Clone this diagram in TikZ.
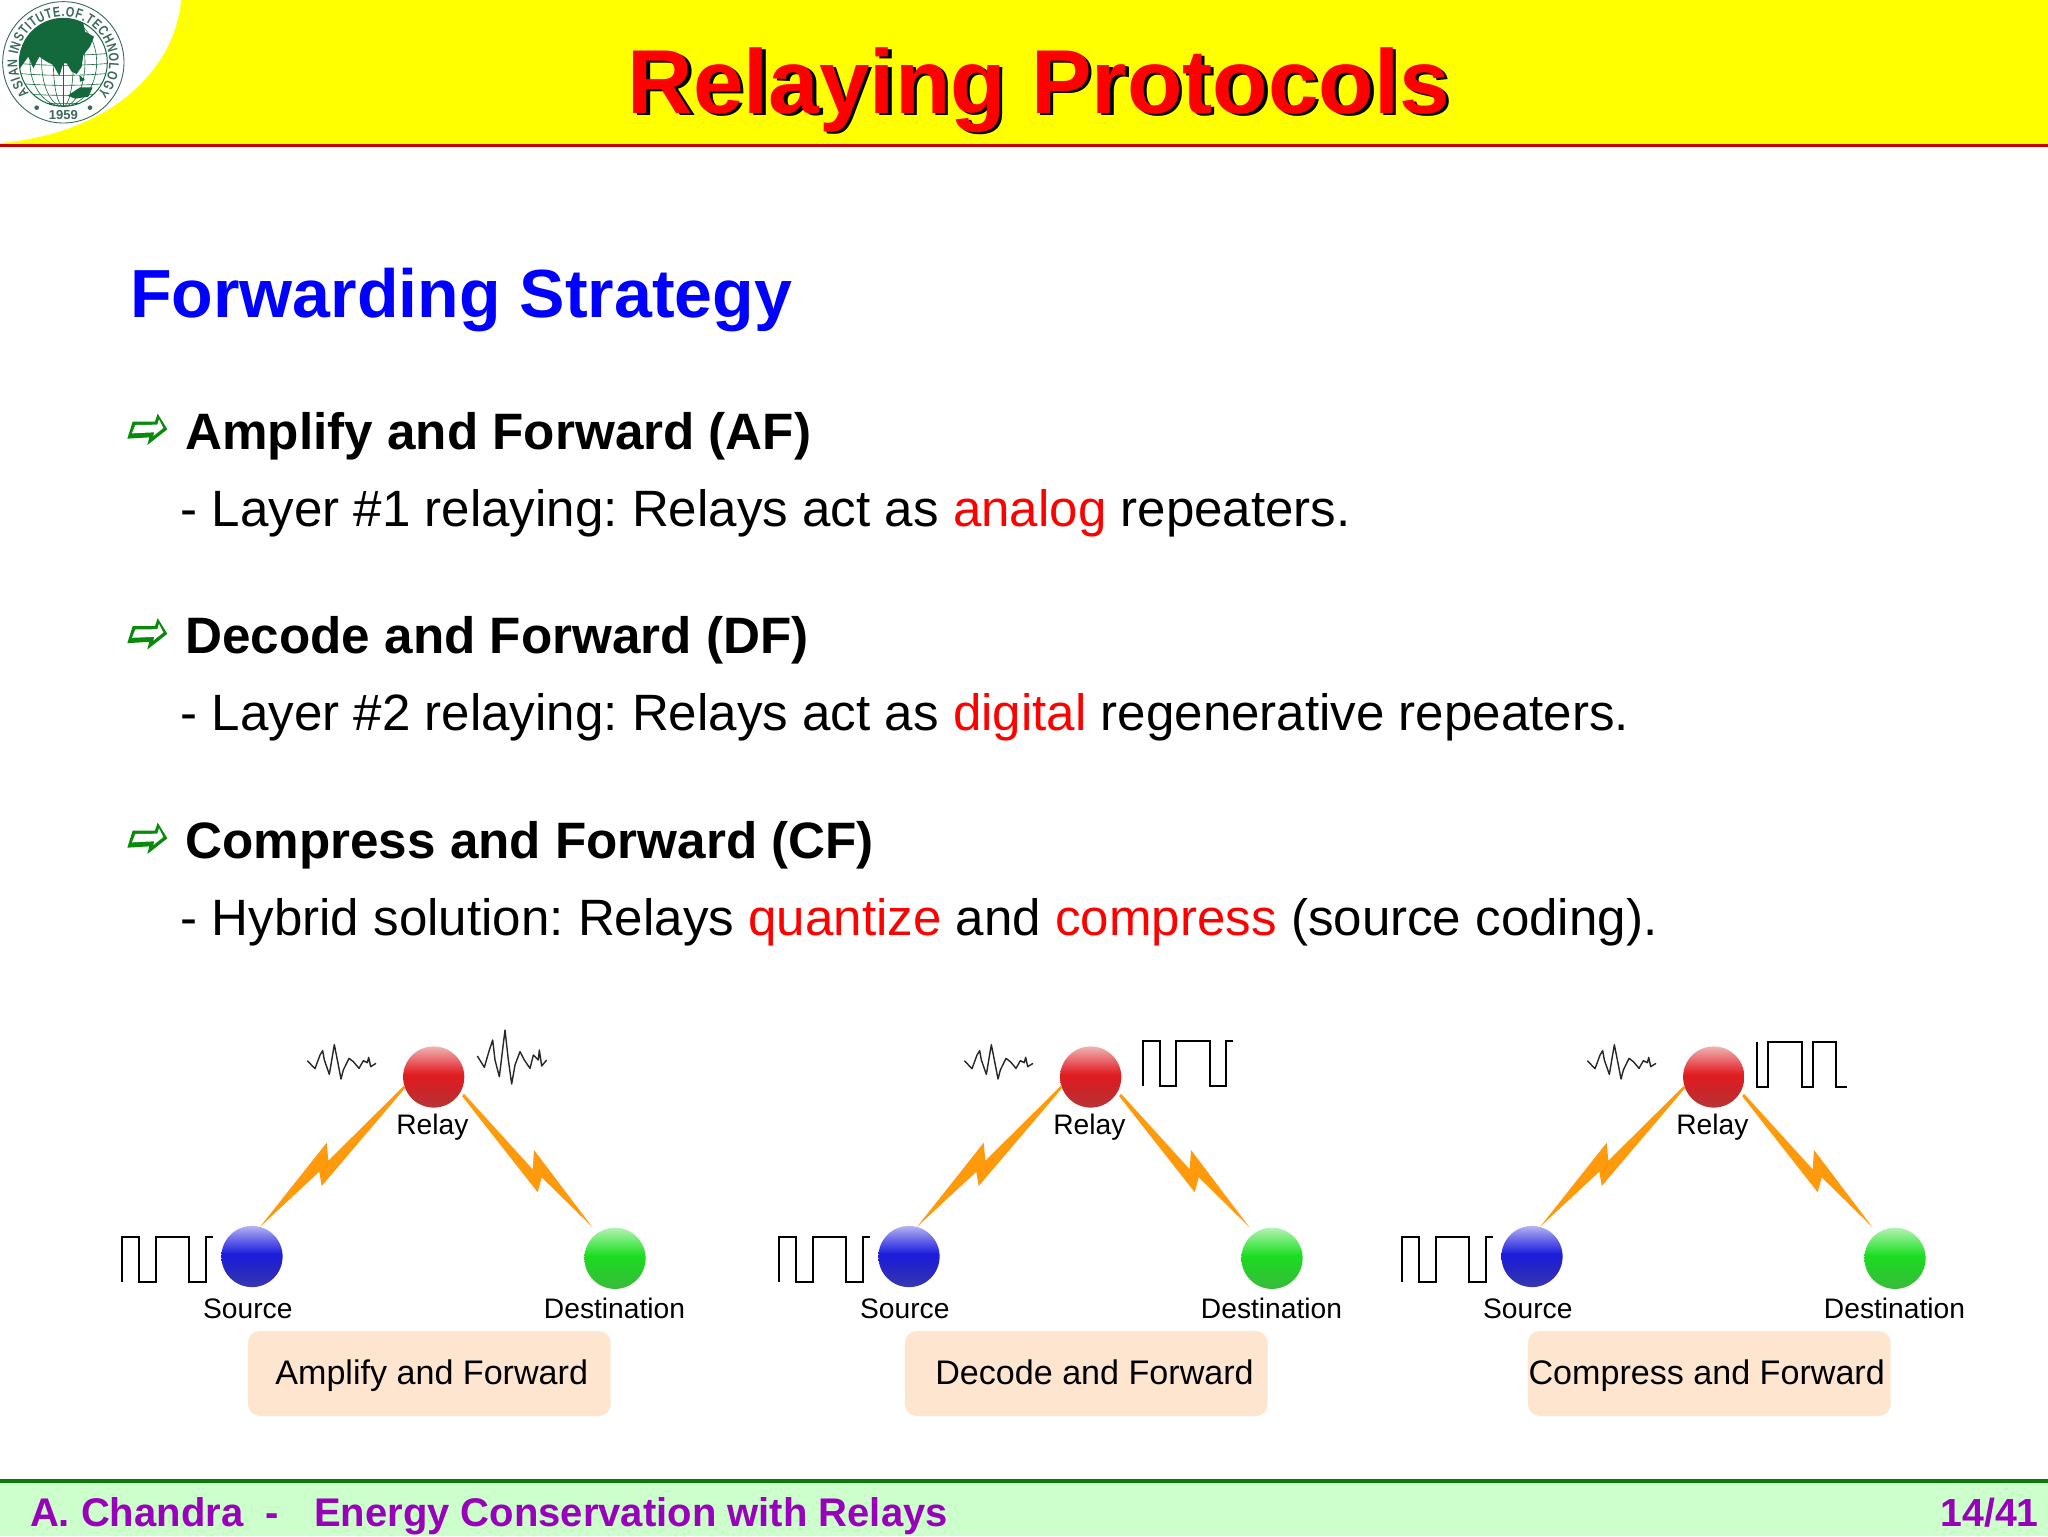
\documentclass[tikz,border=0pt]{standalone}
\usepackage{fontspec}
\setmainfont{Liberation Sans}
\newfontfamily\logofont[FakeStretch=0.78]{Liberation Sans}
\usetikzlibrary{decorations.text}
\definecolor{hdryellow}{HTML}{FFFF00}
\definecolor{hdrred}{HTML}{C80000}
\definecolor{ftrgreen}{HTML}{0A7A0A}
\definecolor{ftrbg}{HTML}{CCFFCC}
\definecolor{ftrtext}{HTML}{9900BB}
\definecolor{headblue}{HTML}{0000FF}
\definecolor{bulletgreen}{HTML}{0A8A0A}
\definecolor{boltorange}{HTML}{FF9A0C}
\definecolor{boxpeach}{HTML}{FDE5D0}
\definecolor{logoink}{HTML}{3A6A58}
\definecolor{logogreen}{HTML}{14693C}
\definecolor{rA}{HTML}{B83438}\definecolor{rB}{HTML}{CC2428}\definecolor{rC}{HTML}{E01C20}\definecolor{rD}{HTML}{E85A60}\definecolor{rE}{HTML}{F0B4B4}
\definecolor{bA}{HTML}{3838B0}\definecolor{bB}{HTML}{2626C4}\definecolor{bC}{HTML}{1C1CDC}\definecolor{bD}{HTML}{5A5AE8}\definecolor{bE}{HTML}{B4B4F2}
\definecolor{gA}{HTML}{38BC3C}\definecolor{gB}{HTML}{28CC2C}\definecolor{gC}{HTML}{1CDC20}\definecolor{gD}{HTML}{5AE85E}\definecolor{gE}{HTML}{B4F2B4}
\pgfdeclareverticalshading{relayball}{100bp}{color(0bp)=(rA);color(25bp)=(rA);color(40bp)=(rB);color(52bp)=(rC);color(62bp)=(rD);color(75bp)=(rE);color(100bp)=(rE)}
\pgfdeclareverticalshading{sourceball}{100bp}{color(0bp)=(bA);color(25bp)=(bA);color(40bp)=(bB);color(52bp)=(bC);color(62bp)=(bD);color(75bp)=(bE);color(100bp)=(bE)}
\pgfdeclareverticalshading{destball}{100bp}{color(0bp)=(gA);color(25bp)=(gA);color(40bp)=(gB);color(52bp)=(gC);color(62bp)=(gD);color(75bp)=(gE);color(100bp)=(gE)}
\newcommand{\fsz}[1]{\fontsize{#1}{#1}\selectfont}
\frenchspacing
\tikzset{
  txt/.style={anchor=base west,inner sep=0pt,outer sep=0pt},
  txtc/.style={anchor=base,inner sep=0pt,outer sep=0pt},
  boldline/.style={txt,font=\fsz{25.6}\bfseries\frenchspacing},
  plainline/.style={txt,font=\fsz{25.55}\frenchspacing},
  small/.style={txtc,font=\fsz{14.1}},
  ball/.style={circle,inner sep=0pt,outer sep=0pt,minimum size=30.6pt,shade,shading=#1},
  bolt/.style={fill=boltorange},
  capbox/.style={rectangle,rounded corners=6pt,fill=boxpeach,inner sep=0pt,outer sep=0pt,minimum width=181.4pt,minimum height=42.5pt},
  captxt/.style={txtc,font=\fsz{17.05}},
  square/.style={draw=black,line width=.95pt,line join=miter},
  wave/.style={draw=black!85,line width=.7pt,line join=round},
  zoomunits/.style={x=.16667pt,y=-.16667pt}
}
\newcommand{\bulletarrow}[1]{%
  \begin{scope}[shift={(110,#1)},zoomunits]
    \fill[bulletgreen] (52,116)--(68,65)--(135,65)--(143,41)--(172,88)--(112,135)--(118,112)--cycle;
    \fill[white] (66,100)--(76,75)--(142,74)--(147,58)--(160,84)--(130,108)--(133,97)--cycle;
  \end{scope}}
\newcommand{\relaypanel}[4]{%
  \begin{scope}[shift={(#2,0)}]
    \node[ball=relayball]  (#1rel) at (433.7,1077) {};
    \node[ball=sourceball] (#1src) at (252,1256.5) {};
    \node[ball=destball]   (#1dst) at (615,1258.3) {};
    \fill[bolt] (#1src.75)--(326.7,1142.7)--(328.3,1160.7)--(#1rel.196)--(#1rel.201)--(321.7,1186)--(319.3,1171.7)--cycle;
    \fill[bolt] ([shift={(3.6,2)}]#1rel.-29)--(532.7,1169.3)--(534,1150)--([shift={(-4.4,-6.1)}]#1dst.126)--(541.7,1177.3)--(537.7,1192.3)--([shift={(2.4,2.8)}]#1rel.-32)--cycle;
    \node[small] (#1rellab) at (432.4,1134) {Relay};
    \node[small] (#1srclab) at (247.8,1318) {Source};
    \node[small] (#1dstlab) at (614.5,1318) {Destination};
    \node[capbox] (#1box) at (429.3,1373.5) {};
    \node[captxt] (#1cap) at (#4,1384) {#3};
    \draw[square] (122.3,1281.7)--(122.3,1236.7)--(138.8,1236.7)--(138.8,1281.7)--(156.2,1281.7)--(156.2,1236.7)--(188.8,1236.7)--(188.8,1281.7)--(206.2,1281.7)--(206.2,1236.7)--(213,1236.7);
    \begin{scope}[shift={(280,1010)},zoomunits]
      \draw[wave] (82,152)--(105,176)--(120,135)--(128,122)--(133,150)--(148,193)--(163,104)--(175,165)--(183,207)--(190,180)--(207,145)--(220,155)--(237,175)--(250,152)--(262,158)--(266,142)--(272,170)--(288,160);
    \end{scope}
  \end{scope}}
\begin{document}
\begin{tikzpicture}[x=.5pt,y=-.5pt]
\useasboundingbox (0,0) rectangle (2048,1536);
\fill[white] (0,0) rectangle (2048,1536);
% header
\fill[hdryellow] (0,0) rectangle (2048,144);
\fill[white] (0,0) -- (181,0) .. controls (176,62) and (120,132) .. (0,143) -- cycle;
\draw[hdrred,line width=1.3pt] (0,145.5) -- (2048,145.5);
% logo
\begin{scope}[zoomunits]
  \draw[logoink,line width=.45pt] (190,187) circle [radius=182];
  \begin{scope}
    \clip (190,187) circle [radius=132];
    \fill[white] (190,187) circle [radius=132];
    \fill[logogreen] (40,40)--(340,40)--(250,70)--(255,95)--(282,110)--(270,140)--(250,165)--(245,200)--(230,222)--(215,215)--(200,190)--(190,190)--(178,228)--(160,195)--(140,185)--(118,170)--(100,205)--(85,170)--(60,205)--(40,205)--cycle;
    \fill[logogreen] (203,287)--(240,262)--(278,262)--(265,290)--(225,296)--cycle;
    \fill[logogreen] (238,225)--(255,240)--(240,245)--cycle;
    \begin{scope}[line width=.3pt]
      \foreach \r in {30,65,100} \draw[logogreen] (190,187) ellipse [x radius=\r,y radius=132];
      \draw[logogreen] (190,55)--(190,320);
      \foreach \yy in {160,190,220,250,280,305} \draw[logogreen] (50,\yy) .. controls (150,\yy+8) and (230,\yy+8) .. (330,\yy);
    \end{scope}
  \end{scope}
  \draw[logogreen,line width=.5pt] (190,187) circle [radius=132];
  \path[decorate,decoration={text along path,text align=fit to path,
     text={|\logofont\fsz{7}\bfseries\color{logoink}|ASIAN INSTITUTE.OF.TECHNOLOGY}}]
     (190,187) ++(222:23pt) arc [start angle=222,end angle=-42,radius=23pt];
  \fill[logoink] (110,323) circle [radius=7];
  \fill[logoink] (270,323) circle [radius=7];
  \node[txtc,font=\fsz{6.5}\bfseries,text=logoink] (logoyear) at (190,358) {1959};
\end{scope}
% title
\node[txt,font=\fsz{45.4}\bfseries,text=black] (titleshadow) at (631,116) {Relaying Protocols};
\node[txt,font=\fsz{45.4}\bfseries,text=red] (title) at (627.5,113) {Relaying Protocols};
% body
\node[txt,font=\fsz{34.05}\bfseries,text=headblue] (heading) at (130,317) {Forwarding Strategy};
\bulletarrow{400}\bulletarrow{604.5}\bulletarrow{809}
\node[boldline] (af) at (185.5,449) {Amplify and Forward (AF)};
\node[plainline] (afd) at (180.5,526) {- Layer \#1 relaying: Relays act as \textcolor{red}{analog} repeaters.};
\node[boldline] (df) at (185.5,653.5) {Decode and Forward (DF)};
\node[plainline] (dfd) at (180.5,730.5) {- Layer \#2 relaying: Relays act as \textcolor{red}{digital} regenerative repeaters.};
\node[boldline] (cf) at (185.5,858) {Compress and Forward (CF)};
\node[plainline] (cfd) at (180.5,935) {- Hybrid solution: Relays \textcolor{red}{quantize} and \textcolor{red}{compress} (source coding).};
% panels
\relaypanel{a}{0}{Amplify and Forward}{431.7}
\relaypanel{b}{657}{Decode and Forward}{437.5}
\relaypanel{c}{1280}{Compress and Forward}{426.7}
\begin{scope}[shift={(280,1010)},zoomunits]
  \draw[wave] (592,138)--(613,172)--(628,120)--(638,90)--(645,150)--(658,200)--(675,60)--(685,150)--(695,222)--(705,165)--(720,125)--(733,150)--(750,175)--(760,135)--(775,150)--(778,120)--(785,168)--(800,150);
\end{scope}
\draw[square] (1143,1085.7)--(1143,1040.7)--(1160,1040.7)--(1160,1085.7)--(1175.7,1085.7)--(1175.7,1040.7)--(1210,1040.7)--(1210,1085.7)--(1226,1085.7)--(1226,1040.7)--(1233.3,1040.7);
\draw[square] (1757.3,1041.7)--(1757.3,1086.7)--(1768.3,1086.7)--(1768.3,1041.7)--(1802.3,1041.7)--(1802.3,1086.7)--(1813.3,1086.7)--(1813.3,1041.7)--(1835.7,1041.7)--(1835.7,1086.7)--(1846.7,1086.7);
% footer
\fill[ftrbg] (0,1481) rectangle (2048,1536);
\draw[ftrgreen,line width=2pt] (0,1481) -- (2048,1481);
\node[txt,font=\fsz{20}\bfseries\frenchspacing,text=ftrtext] (author) at (30,1526) {A. Chandra\ \ -\ \ \ \hspace{1pt}Energy Conservation with Relays};
\node[anchor=base east,inner sep=0pt,font=\fsz{19.6}\bfseries,text=ftrtext] (page) at (2039,1526) {14/41};
\end{tikzpicture}
\end{document}
